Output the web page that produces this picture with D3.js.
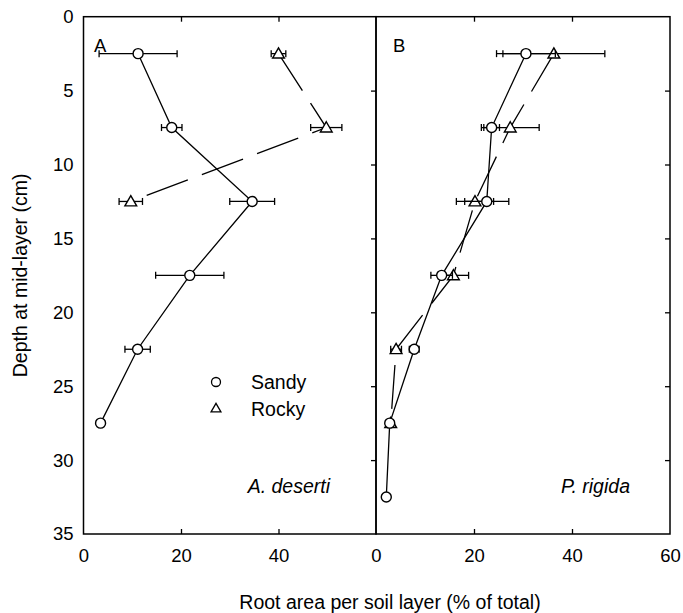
<!DOCTYPE html>
<html>
<head>
<meta charset="utf-8">
<script src="https://cdn.jsdelivr.net/npm/d3@7"></script>
<style>
  body { margin: 0; background: #fff; }
  svg text { font-family: "Liberation Sans", Arial, sans-serif; fill: #000; }
</style>
</head>
<body>
<div id="plot"></div>
<script>
// depths (cm, mid-layer)
const depths = [2.5, 7.5, 12.5, 17.5, 22.5, 27.5, 32.5];

// Panel A: A. deserti
const aSandy = [11.2, 18.1, 34.6, 21.8, 11.1, 3.5];
const aSandyErr = [8.0, 2.1, 4.6, 7.0, 2.6, 0.6];
const aRocky = [40.0, 49.8, 9.7];
const aRockyErr = [1.5, 3.2, 2.4];

// Panel B: P. rigida
const bSandy = [30.6, 23.6, 22.6, 13.4, 7.8, 2.8, 2.1];
const bSandyErr = [6.0, 1.6, 4.5, 2.2, 1.0, 0.4, 0];
const bRocky = [36.3, 27.4, 20.2, 15.8, 4.1, 3.0];
const bRockyErr = [10.4, 5.9, 3.8, 3.1, 1.1, 0.4];

const yTicks = [0, 5, 10, 15, 20, 25, 30, 35];
const xTicksA = [0, 20, 40];
const xTicksB = [0, 20, 40, 60];

const svgWidth = 683, svgHeight = 613;
const svg = d3.select('#plot').append('svg')
    .attr("width", svgWidth)
    .attr("height", svgHeight);

const y = d3.scaleLinear().domain([0, 35]).range([16.7, 534]);
const xA = d3.scaleLinear().domain([0, 60]).range([83.5, 376]);
const xB = d3.scaleLinear().domain([0, 60]).range([376, 670]);

const fsTick = 18.5;  // tick labels
const fs = 19.5;      // titles, legend, species

// frames
[xA, xB].forEach(function(x) {
    svg.append("rect")
        .attr("x", x(0)).attr("y", y(0))
        .attr("width", x(60) - x(0)).attr("height", y(35) - y(0))
        .attr("fill", "none").attr("stroke", "#000").attr("stroke-width", 1.5);
});

// tick marks (inward)
function noLabels(ax) { return ax.tickFormat(""); }
function cleanAxis(g) { g.select(".domain").remove(); g.selectAll("line").attr("stroke-width", 1.3); }

[xA, xB].forEach(function(x) {
    svg.append("g").attr("transform", "translate(0," + y(35) + ")")
        .call(noLabels(d3.axisBottom(x).tickValues([20, 40]).tickSize(-5)))
        .call(cleanAxis);
    svg.append("g").attr("transform", "translate(0," + y(0) + ")")
        .call(noLabels(d3.axisTop(x).tickValues([20, 40]).tickSize(-5)))
        .call(cleanAxis);
});
svg.append("g").attr("transform", "translate(" + xB(0) + ",0)")
    .call(noLabels(d3.axisLeft(y).tickValues([5, 10, 15, 20, 25, 30]).tickSize(5)))
    .call(cleanAxis);
svg.append("g").attr("transform", "translate(" + xB(60) + ",0)")
    .call(noLabels(d3.axisRight(y).tickValues([5, 10, 15, 20, 25, 30]).tickSize(-5)))
    .call(cleanAxis);

// tick labels
const yAx = svg.append("g").attr("transform", "translate(" + xA(0) + ",0)")
    .call(d3.axisLeft(y).tickValues(yTicks).tickSize(0).tickPadding(10));
yAx.select(".domain").remove();
yAx.selectAll("text").attr("font-size", fsTick).style("font-family", "Liberation Sans, Arial, sans-serif");

[[xA, xTicksA], [xB, xTicksB]].forEach(function(p) {
    const g = svg.append("g").attr("transform", "translate(0," + y(35) + ")")
        .call(d3.axisBottom(p[0]).tickValues(p[1]).tickSize(0).tickPadding(15));
    g.select(".domain").remove();
    g.selectAll("text").attr("font-size", fsTick).style("font-family", "Liberation Sans, Arial, sans-serif");
});

// axis titles
svg.append("text")
    .attr("transform", "translate(27," + ((y(0) + y(35)) / 2) + ") rotate(-90)")
    .attr("text-anchor", "middle").attr("font-size", fs)
    .text("Depth at mid-layer (cm)");
svg.append("text")
    .attr("x", 390).attr("y", 609)
    .attr("text-anchor", "middle").attr("font-size", fs)
    .text("Root area per soil layer (% of total)");

// panel letters and species
svg.append("text").attr("x", 94).attr("y", 52).attr("font-size", fsTick).text("A");
svg.append("text").attr("x", 393).attr("y", 52).attr("font-size", fsTick).text("B");
svg.append("text").attr("x", 330).attr("y", 493).attr("text-anchor", "end")
    .attr("font-size", fs).attr("font-style", "italic").text("A. deserti");
svg.append("text").attr("x", 630).attr("y", 493).attr("text-anchor", "end")
    .attr("font-size", fs).attr("font-style", "italic").text("P. rigida");

const tri = d3.symbol().type(d3.symbolTriangle).size(60);
const triLegend = d3.symbol().type(d3.symbolTriangle).size(42);

function drawSeries(x, vals, errs, shape, dashed) {
    const pts = vals.map(function(v, i) { return { v: v, d: depths[i], e: errs[i] }; });
    const line = d3.line().x(function(p) { return x(p.v); }).y(function(p) { return y(p.d); });
    svg.append("path").datum(pts)
        .attr("d", line)
        .attr("fill", "none").attr("stroke", "#000").attr("stroke-width", 1.3)
        .attr("stroke-dasharray", dashed ? "44,15" : null);

    const eb = svg.append("g").attr("stroke", "#000").attr("stroke-width", 1.3);
    pts.filter(function(p) { return p.e > 0; }).forEach(function(p) {
        eb.append("line").attr("x1", x(p.v - p.e)).attr("x2", x(p.v + p.e))
            .attr("y1", y(p.d)).attr("y2", y(p.d));
        [p.v - p.e, p.v + p.e].forEach(function(c) {
            eb.append("line").attr("x1", x(c)).attr("x2", x(c))
                .attr("y1", y(p.d) - 3.5).attr("y2", y(p.d) + 3.5);
        });
    });

    if (shape === "circle") {
        svg.selectAll(null).data(pts).enter().append("circle")
            .attr("cx", function(p) { return x(p.v); })
            .attr("cy", function(p) { return y(p.d); })
            .attr("r", 5)
            .attr("fill", "#fff").attr("stroke", "#000").attr("stroke-width", 1.4);
    } else {
        svg.selectAll(null).data(pts).enter().append("path")
            .attr("d", tri)
            .attr("transform", function(p) { return "translate(" + x(p.v) + "," + (y(p.d) + 1) + ")"; })
            .attr("fill", "#fff").attr("stroke", "#000").attr("stroke-width", 1.4);
    }
}

drawSeries(xA, aSandy, aSandyErr, "circle", false);
drawSeries(xA, aRocky, aRockyErr, "triangle", true);
drawSeries(xB, bRocky, bRockyErr, "triangle", true);
drawSeries(xB, bSandy, bSandyErr, "circle", false);

// legend
svg.append("circle").attr("cx", 216).attr("cy", 382).attr("r", 4.5)
    .attr("fill", "#fff").attr("stroke", "#000").attr("stroke-width", 1.3);
svg.append("text").attr("x", 251).attr("y", 389).attr("font-size", fs).text("Sandy");
svg.append("path").attr("d", triLegend).attr("transform", "translate(216,409)")
    .attr("fill", "#fff").attr("stroke", "#000").attr("stroke-width", 1.3);
svg.append("text").attr("x", 251).attr("y", 416).attr("font-size", fs).text("Rocky");
</script>
</body>
</html>
